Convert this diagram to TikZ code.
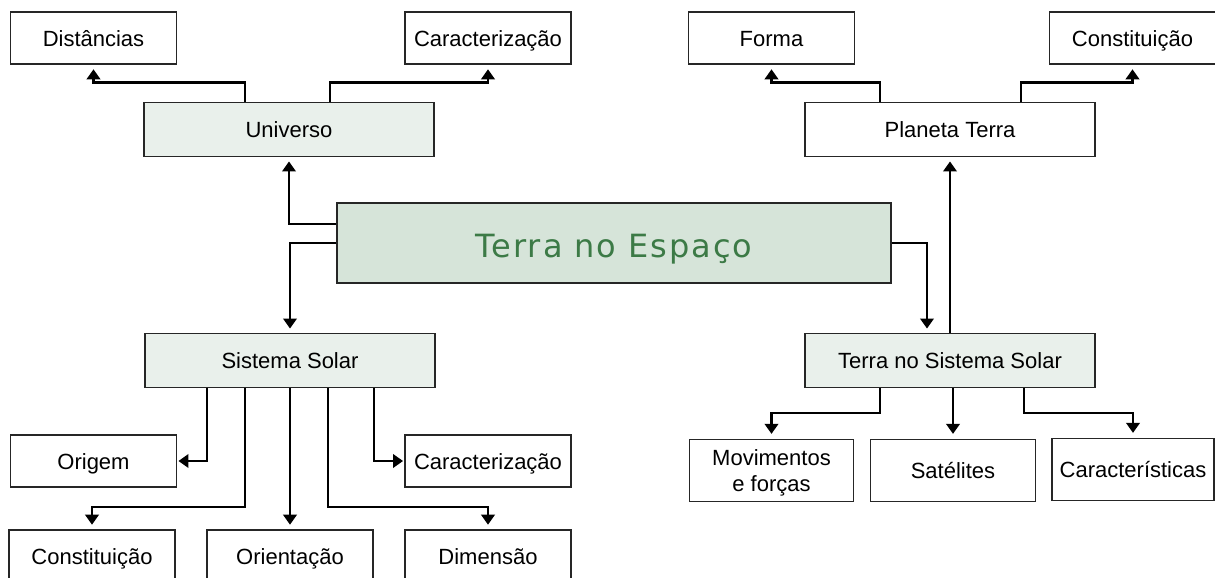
\documentclass[tikz,border=0pt]{standalone}
\usepackage{fontspec}
\setmainfont{Liberation Sans}
\newfontfamily\titlefont[LetterSpace=6]{DejaVu Sans}
\usepackage{tikz}
\usetikzlibrary{arrows.meta,positioning,calc}
\definecolor{lightgreen}{RGB}{233,240,235}
\definecolor{midgreen}{RGB}{214,228,217}
\definecolor{textgreen}{RGB}{60,122,70}

\begin{document}
\begin{tikzpicture}[x=0.75pt,y=-0.75pt,% coordinates are in pixels of the page
					every node/.style={
						align=center,  		% so that "\\" breaks a line
						inner sep=0pt,
						text height=14pt,	% same baseline for every box
						text depth=2pt,
						font=\fontsize{16.5}{19.5}\selectfont
						},
					smallbox/.style={rectangle,draw=black!85,line width=0.9pt,fill=white,minimum width=124.5pt,minimum height=39pt},
					bigbox/.style={smallbox,fill=lightgreen,minimum width=217.5pt,minimum height=40pt},
					tallbox/.style={smallbox,minimum width=123.5pt,minimum height=47pt},
					link/.style={draw,line width=1.9pt,-{Triangle[width=10pt,length=7.5pt]},shorten >=3.5pt}
					]
\useasboundingbox (0,0) rectangle (1215,578);
% centre
\node[bigbox,minimum width=415.5pt,minimum height=60pt,fill=midgreen,text=textgreen,text height=22pt,text depth=1pt,font=\titlefont\fontsize{24}{28}\selectfont](Terra) at (614,243){Terra no Espaço};
% left half
\node[bigbox](Uni) at (289,129.5){Universo};
\node[smallbox](Dist) at (93.5,38){Distâncias};
\node[smallbox](CarU) at (488,38){Caracterização};
\node[bigbox](Sis) at (290,360.5){Sistema Solar};
\node[smallbox](Orig) at (93.5,461){Origem};
\node[smallbox](CarS) at (488,461){Caracterização};
\node[smallbox](ConsL) at (92,556){Constituição};
\node[smallbox](Orie) at (290,556){Orientação};
\node[smallbox](Dim) at (488,556){Dimensão};
% right half
\node[bigbox,fill=white](Plan) at (950,129.5){Planeta Terra};
\node[smallbox](Forma) at (771.5,38){Forma};
\node[smallbox](ConsR) at (1132.5,38){Constituição};
\node[bigbox](TSS) at (950,360.5){Terra no Sistema Solar};
\node[tallbox,text height=33.5pt](Mov) at (771.5,470.5){Movimentos\\ e forças};
\node[tallbox](Sat) at (953,470.5){Satélites};
\node[tallbox,minimum width=121.5pt](Carac) at (1133,469.5){Características};
% connectors
\draw[link] ($(Uni.north)+(-44,0)$) -- ++(0,-20) -| (Dist.south);
\draw[link] ($(Uni.north)+(41,0)$) -- ++(0,-20) -| (CarU.south);
\draw[link] ($(Terra.west)+(0,-19)$) -| (Uni.south);
\draw[link] (Terra.west) -| (Sis.north);
\draw[link,shorten >=1pt] ($(Sis.south)+(-83,0)$) |- (Orig.east);
\draw[link] ($(Sis.south)+(-45,0)$) -- ++(0,119) -| (ConsL.north);
\draw[link] (Sis.south -| Orie.north) -- (Orie.north);
\draw[link] ($(Sis.south)+(38,0)$) -- ++(0,119) -| (Dim.north);
\draw[link,shorten >=1pt] ($(Sis.south)+(84,0)$) |- (CarS.west);
\draw[link] ($(Plan.north)+(-70,0)$) -- ++(0,-20) -| (Forma.south);
\draw[link] ($(Plan.north)+(71,0)$) -- ++(0,-20) -| (ConsR.south);
\draw[link] (Terra.east) -| ($(TSS.north)+(-23,0)$);
\draw[link] (TSS.north) -- (Plan.south);
\draw[link] ($(TSS.south)+(-70,0)$) -- ++(0,25) -| (Mov.north);
\draw[link] (TSS.south -| Sat.north) -- (Sat.north);
\draw[link] ($(TSS.south)+(74,0)$) -- ++(0,25) -| (Carac.north);
\end{tikzpicture}
\end{document}
